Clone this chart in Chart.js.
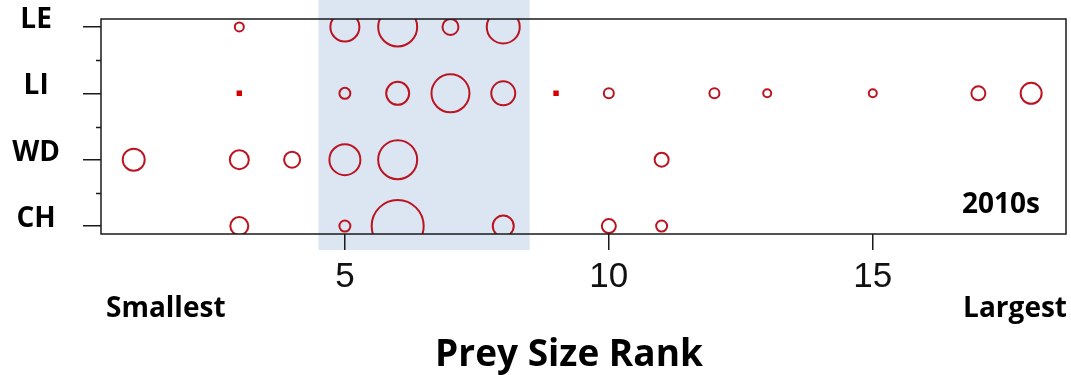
<!DOCTYPE html>
<html>
<head>
<meta charset="utf-8">
<script src="https://cdn.jsdelivr.net/npm/chart.js@4.4.1/dist/chart.umd.min.js"></script>
<style>
  html, body { margin: 0; padding: 0; background: #fff; }
  #wrap { width: 1071px; height: 375px; position: relative; }
</style>
</head>
<body>
<div id="wrap"><canvas id="preyChart"></canvas></div>
<script>
// predator groups, bottom to top
var groups = ["CH", "WD", "LI", "LE"];

// prey size rank and bubble radius for each group
var chRanks = [3, 5, 6, 8, 10, 11];
var chSizes = [9, 5.5, 26, 10.5, 7, 5.5];
var wdRanks = [1, 3, 4, 5, 6, 11];
var wdSizes = [11, 9.5, 8, 15.5, 19.5, 7];
var liRanks = [3, 5, 6, 7, 8, 9, 10, 12, 13, 15, 17, 18];
var liSizes = [2.4, 5.5, 11.5, 19, 12, 2.4, 5, 5, 4, 4, 7, 10.5];
var leRanks = [3, 5, 6, 7, 8];
var leSizes = [4.5, 14.5, 19.5, 8, 16.5];

var xTicks = [5, 10, 15];
var shadedRanks = [4.5, 8.5];
var decade = "2010s";

var red = "#bb1420";
var ink = "#1a1a1a";
var boldFont = "'Open Sans', 'Noto Sans', sans-serif";

function points(ranks, sizes, row) {
    return ranks.map(function (x, i) {
        return { x: x, y: row, r: sizes[i] };
    });
}

// the smallest marks render as solid squares
function isDot(ctx) {
    return ctx.raw && ctx.raw.r < 3;
}

// no extra room for edge labels, the plot box is sized by layout padding
function noPadding(scale) {
    scale.paddingTop = 0;
    scale.paddingBottom = 0;
    scale.paddingLeft = 0;
    scale.paddingRight = 0;
}

// light blue band behind everything, a bit taller than the plot box
var bandPlugin = {
    id: 'band',
    beforeDraw: function (chart) {
        var c = chart.ctx, xs = chart.scales.x, area = chart.chartArea;
        var x0 = xs.getPixelForValue(shadedRanks[0]);
        var x1 = xs.getPixelForValue(shadedRanks[1]);
        c.save();
        c.fillStyle = "#dbe6f2";
        c.fillRect(x0, 0, x1 - x0, area.bottom + 16);
        c.restore();
    }
};

// frame, minor y ticks and the free-standing labels
var framePlugin = {
    id: 'frame',
    afterDatasetsDraw: function (chart) {
        var c = chart.ctx, area = chart.chartArea, ys = chart.scales.y;
        c.save();
        c.strokeStyle = ink;
        c.lineWidth = 1.5;
        c.strokeRect(area.left, area.top, area.right - area.left, area.bottom - area.top);

        [0.5, 1.5, 2.5].forEach(function (v) {
            var y = Math.round(ys.getPixelForValue(v)) + 0.5;
            c.beginPath();
            c.moveTo(area.left - 5, y);
            c.lineTo(area.left, y);
            c.stroke();
        });

        c.fillStyle = "#000";
        c.textBaseline = 'alphabetic';
        c.font = "bold 28px " + boldFont;
        c.textAlign = 'right';
        c.fillText(decade, area.right - 26, 213);

        c.textAlign = 'left';
        c.fillText("Smallest", 106, 317);
        c.textAlign = 'right';
        c.fillText("Largest", area.right + 1, 317);

        c.font = "bold 37px " + boldFont;
        c.textAlign = 'center';
        c.fillText("Prey Size Rank", 569, 366);
        c.restore();
    }
};

var bubbleStyle = {
    borderColor: function (ctx) { return isDot(ctx) ? "#d40000" : red; },
    backgroundColor: function (ctx) { return isDot(ctx) ? "#d40000" : 'rgba(0,0,0,0)'; },
    pointStyle: function (ctx) { return isDot(ctx) ? 'rect' : 'circle'; },
    borderWidth: 2,
    hoverBorderWidth: 2,
    clip: 0
};

new Chart(document.getElementById('preyChart'), {
    type: 'bubble',
    data: {
        datasets: [
            Object.assign({ label: groups[0], data: points(chRanks, chSizes, 0) }, bubbleStyle),
            Object.assign({ label: groups[1], data: points(wdRanks, wdSizes, 1) }, bubbleStyle),
            Object.assign({ label: groups[2], data: points(liRanks, liSizes, 2) }, bubbleStyle),
            Object.assign({ label: groups[3], data: points(leRanks, leSizes, 3) }, bubbleStyle)
        ]
    },
    options: {
        responsive: true,
        maintainAspectRatio: false,
        animation: false,
        layout: {
            autoPadding: false,
            padding: { left: 0, right: 5, top: 19, bottom: 0 }
        },
        plugins: {
            legend: { display: false },
            tooltip: { enabled: false }
        },
        scales: {
            x: {
                type: 'linear',
                min: 0.38,
                max: 18.66,
                afterBuildTicks: function (scale) {
                    scale.ticks = xTicks.map(function (v) { return { value: v }; });
                },
                afterFit: function (scale) {
                    scale.height = 141;
                    noPadding(scale);
                },
                border: { display: false },
                grid: {
                    drawOnChartArea: false,
                    drawTicks: true,
                    tickLength: 16,
                    color: ink,
                    lineWidth: 1.5
                },
                ticks: {
                    padding: 6,
                    color: "#111",
                    maxRotation: 0,
                    font: { family: "'Liberation Sans Narrow', 'Liberation Sans', Arial, sans-serif", size: 35 }
                }
            },
            y: {
                type: 'linear',
                min: -0.12,
                max: 3.12,
                afterBuildTicks: function (scale) {
                    scale.ticks = groups.map(function (g, i) { return { value: i }; });
                },
                afterFit: function (scale) {
                    scale.width = 101;
                    noPadding(scale);
                },
                border: { display: false },
                grid: {
                    drawOnChartArea: false,
                    drawTicks: true,
                    tickLength: 18,
                    color: ink,
                    lineWidth: 1.5
                },
                ticks: {
                    crossAlign: 'center',
                    padding: 23,
                    labelOffset: -7,
                    color: "#000",
                    font: { family: boldFont, size: 28, weight: 'bold' },
                    callback: function (value) { return groups[value]; }
                }
            }
        }
    },
    plugins: [bandPlugin, framePlugin]
});
</script>
</body>
</html>
